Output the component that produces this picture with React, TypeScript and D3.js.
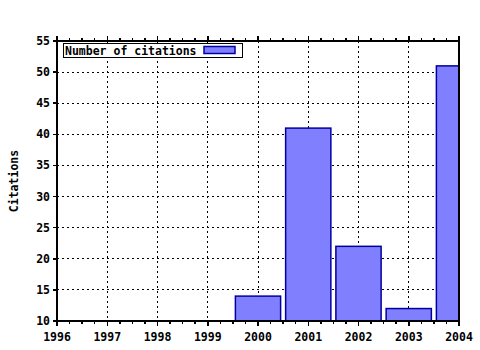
import React from "react";
import * as d3 from "d3";

const years = [2000, 2001, 2002, 2003, 2004];
const citations = [14, 41, 22, 12, 51];
const xTicks = [1996, 1997, 1998, 1999, 2000, 2001, 2002, 2003, 2004];
const yTicks = [10, 15, 20, 25, 30, 35, 40, 45, 50, 55];
const seriesName = "Number of citations";
const yLabel = "Citations";

const W = 480, H = 350;
const L = 57, R = 459, T = 41, B = 321;
const font = "'DejaVu Sans Mono', 'Liberation Mono', monospace";

export default function App() {
  const x = d3.scaleLinear().domain([1996, 2004]).range([L, R]);
  const y = d3.scaleLinear().domain([10, 55]).range([B, T]);
  const minor: number[] = [];
  for (let i = 0; i < xTicks.length - 1; i++) for (let k = 1; k < 4; k++) minor.push(xTicks[i] + k / 4);
  const bw = 0.9;
  return (
    <div style={{ position: "absolute", left: 0, top: 0 }}>
      <svg width={W} height={H} style={{ display: "block", background: "#fff" }}>
        <defs>
          <clipPath id="plot"><rect x={L} y={T} width={R - L} height={B - T} /></clipPath>
        </defs>
        {/* grid */}
        {xTicks.slice(1, -1).map((t) => (
          <line key={"gx" + t} x1={x(t)} x2={x(t)} y1={T} y2={B} stroke="#000" strokeWidth={1} strokeDasharray="2,3" shapeRendering="crispEdges" />
        ))}
        {yTicks.slice(1, -1).map((t) => (
          <line key={"gy" + t} x1={L} x2={R} y1={y(t)} y2={y(t)} stroke="#000" strokeWidth={1} strokeDasharray="2,3" shapeRendering="crispEdges" />
        ))}
        {/* bars */}
        <g clipPath="url(#plot)">
          {years.map((yr, i) => (
            <rect key={yr} x={x(yr - bw / 2)} y={y(citations[i])} width={x(yr + bw / 2) - x(yr - bw / 2)} height={y(10) - y(citations[i])}
              fill="#8080ff" stroke="#0000a0" strokeWidth={1.5} />
          ))}
        </g>
        {/* frame */}
        <rect x={L} y={T} width={R - L} height={B - T} fill="none" stroke="#000" strokeWidth={1.5} shapeRendering="crispEdges" />
        {/* y ticks */}
        {yTicks.map((t) => (
          <g key={"yt" + t}>
            <line x1={L - 4} x2={L} y1={y(t)} y2={y(t)} stroke="#000" strokeWidth={1.5} shapeRendering="crispEdges" />
            <text x={50} y={y(t) + 4} textAnchor="end" fontFamily={font} fontWeight="bold" fontSize={11.5}>{t}</text>
          </g>
        ))}
        {/* x ticks */}
        {xTicks.map((t) => (
          <g key={"xt" + t}>
            <line x1={x(t)} x2={x(t)} y1={B} y2={B + 5} stroke="#000" strokeWidth={1.5} shapeRendering="crispEdges" />
            <line x1={x(t)} x2={x(t)} y1={T} y2={T - 5} stroke="#000" strokeWidth={1.5} shapeRendering="crispEdges" />
            <text x={x(t)} y={341} textAnchor="middle" fontFamily={font} fontWeight="bold" fontSize={11.5}>{t}</text>
          </g>
        ))}
        {minor.map((t, i) => (
          <g key={"mx" + i}>
            <line x1={x(t)} x2={x(t)} y1={B} y2={B + 3} stroke="#000" strokeWidth={1.5} shapeRendering="crispEdges" />
            <line x1={x(t)} x2={x(t)} y1={T} y2={T - 3} stroke="#000" strokeWidth={1.5} shapeRendering="crispEdges" />
          </g>
        ))}
        {/* y label */}
        <text transform="translate(18,181) rotate(-90)" textAnchor="middle" fontFamily={font} fontWeight="bold" fontSize={11.5}>{yLabel}</text>
        {/* legend */}
        <rect x={63.5} y={43.5} width={179} height={14} fill="#fff" stroke="#000" strokeWidth={1.5} shapeRendering="crispEdges" />
        <text x={65} y={54.5} fontFamily={font} fontWeight="bold" fontSize={11.5}>{seriesName}</text>
        <rect x={204} y={46.5} width={31} height={7} fill="#8080ff" stroke="#0000a0" strokeWidth={1.5} />
      </svg>
    </div>
  );
}
